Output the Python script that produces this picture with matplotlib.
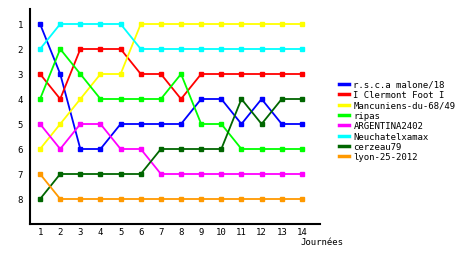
import matplotlib
matplotlib.use("Agg")
from matplotlib import pyplot as plt
from matplotlib.lines import Line2D

journees = list(range(1, 15))
equipes = ["r.s.c.a malone/18", "I Clermont Foot I", "Mancuniens-du-68/49", "ripas",
           "ARGENTINA2402", "Neuchatelxamax", "cerzeau79", "lyon-25-2012"]
couleurs = ["#0000ff", "#ff0000", "#ffff00", "#00ff00",
            "#ff00ff", "#00ffff", "#006600", "#ff9900"]

malone = [1, 3, 6, 6, 5, 5, 5, 5, 4, 4, 5, 4, 5, 5]
clermont = [3, 4, 2, 2, 2, 3, 3, 4, 3, 3, 3, 3, 3, 3]
mancuniens = [6, 5, 4, 3, 3, 1, 1, 1, 1, 1, 1, 1, 1, 1]
ripas = [4, 2, 3, 4, 4, 4, 4, 3, 5, 5, 6, 6, 6, 6]
argentina = [5, 6, 5, 5, 6, 6, 7, 7, 7, 7, 7, 7, 7, 7]
neuchatel = [2, 1, 1, 1, 1, 2, 2, 2, 2, 2, 2, 2, 2, 2]
cerzeau = [8, 7, 7, 7, 7, 7, 6, 6, 6, 6, 4, 5, 4, 4]
lyon = [7, 8, 8, 8, 8, 8, 8, 8, 8, 8, 8, 8, 8, 8]
classements = [malone, clermont, mancuniens, ripas, argentina, neuchatel, cerzeau, lyon]

plt.rcParams["font.family"] = "DejaVu Sans Mono"
fig = plt.figure(figsize=(4.6, 2.55), dpi=100)
ax = fig.add_axes([30 / 460, 30 / 255, 290 / 460, 215 / 255])

for c, rangs in zip(couleurs, classements):
    ax.plot(journees, rangs, color=c, lw=1.3, marker="s", ms=2.2)

ax.set_xlim(0.5, 14.9)
ax.set_ylim(9, 0.4)
ax.set_xticks(journees)
ax.set_yticks(range(1, 9))
ax.tick_params(labelsize=6.5, length=0)
ax.tick_params(axis="x", pad=2)
ax.tick_params(axis="y", pad=5)
for s in ["top", "right"]:
    ax.spines[s].set_visible(False)
for s in ["left", "bottom"]:
    ax.spines[s].set_linewidth(1.5)

fig.text(300 / 460, 1 - 243 / 255, "Journées", fontsize=6.5, va="center")
poignees = [Line2D([], [], color=c, lw=2.5) for c in couleurs]
fig.legend(poignees, equipes, loc="upper left", bbox_to_anchor=(339 / 460, 1 - 81 / 255),
           frameon=False, fontsize=6.5, handlelength=1.1, handletextpad=0.5,
           labelspacing=0.15, borderaxespad=0, borderpad=0)

fig.savefig("out.png", dpi=100)
